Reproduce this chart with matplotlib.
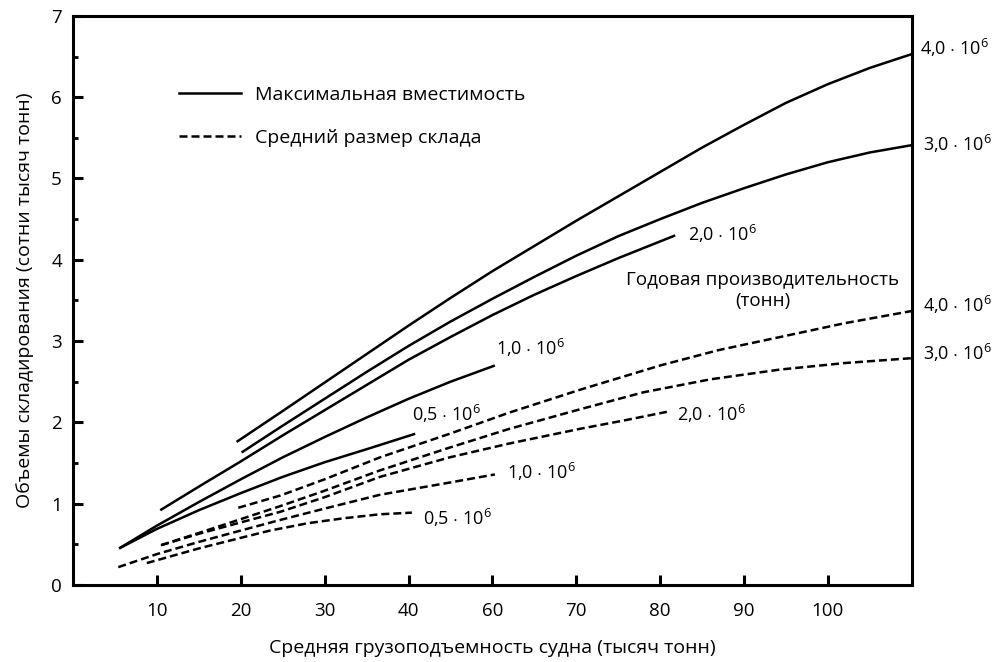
import matplotlib
matplotlib.use("Agg")
import matplotlib.pyplot as plt
from matplotlib.lines import Line2D
from matplotlib.ticker import MultipleLocator

plt.rcParams['font.family'] = ['Open Sans', 'DejaVu Sans']
plt.rcParams['mathtext.fontset'] = 'custom'
plt.rcParams['mathtext.rm'] = 'Open Sans'
plt.rcParams['mathtext.it'] = 'Open Sans'

# x positions are in the chart's own tick units (ticks evenly spaced, labelled as in the source)
tick_pos = [10, 20, 30, 40, 50, 60, 70, 80, 90]
tick_labels = ['10', '20', '30', '40', '60', '70', '80', '90', '100']

# Maximum capacity (solid)
s40_x = [19.5, 25, 30, 35, 40, 45, 50, 55, 60, 65, 70, 75, 80, 85, 90, 95, 100]
s40_y = [1.76, 2.14, 2.49, 2.84, 3.19, 3.53, 3.86, 4.17, 4.48, 4.78, 5.08, 5.38, 5.66, 5.93, 6.16, 6.36, 6.53]
s30_x = [20.1, 25, 30, 35, 40, 45, 50, 55, 60, 65, 70, 75, 80, 85, 90, 95, 100]
s30_y = [1.63, 1.96, 2.29, 2.62, 2.94, 3.24, 3.52, 3.79, 4.05, 4.29, 4.50, 4.70, 4.88, 5.05, 5.20, 5.32, 5.41]
s20_x = [10.4, 15, 20, 25, 30, 35, 40, 45, 50, 55, 60, 65, 71.8]
s20_y = [0.92, 1.21, 1.52, 1.84, 2.15, 2.46, 2.77, 3.05, 3.32, 3.57, 3.80, 4.02, 4.30]
s10_x = [5.5, 10, 15, 20, 25, 30, 35, 40, 45, 50.3]
s10_y = [0.45, 0.73, 1.02, 1.30, 1.57, 1.82, 2.06, 2.29, 2.50, 2.70]
s05_x = [5.5, 10, 15, 20, 25, 30, 35, 40.8]
s05_y = [0.45, 0.69, 0.92, 1.13, 1.33, 1.51, 1.67, 1.86]

# Average warehouse size (dashed)
d40_x = [19.7, 24.7, 30, 36.6, 44.9, 52, 60.4, 70, 77, 84.3, 92, 100]
d40_y = [0.95, 1.10, 1.30, 1.57, 1.86, 2.12, 2.40, 2.70, 2.89, 3.05, 3.22, 3.37]
d30_x = [10.5, 15, 20, 24.7, 30, 36.6, 44.9, 52, 60.4, 68, 76, 84.3, 92, 100]
d30_y = [0.49, 0.64, 0.81, 0.97, 1.16, 1.41, 1.69, 1.92, 2.16, 2.37, 2.53, 2.65, 2.73, 2.79]
d20_x = [10.5, 15, 20, 24.7, 30, 36.6, 44.9, 52, 60.4, 66, 70.8]
d20_y = [0.49, 0.63, 0.77, 0.90, 1.08, 1.33, 1.57, 1.74, 1.92, 2.03, 2.13]
d10_x = [5.4, 10, 15, 20, 24.7, 30, 36.6, 44.9, 50.3]
d10_y = [0.22, 0.38, 0.53, 0.67, 0.80, 0.94, 1.11, 1.26, 1.36]
d05_x = [8.8, 15, 20, 23.5, 28, 32.2, 36.6, 40.4]
d05_y = [0.27, 0.45, 0.58, 0.67, 0.76, 0.82, 0.87, 0.89]

fig = plt.figure(figsize=(10.03, 6.62), dpi=100)
ax = fig.add_axes([0.0728, 0.1163, 0.8362, 0.8597])

lw = 1.8
dash = (0, (3.2, 1.6))
for xs, ys in [(s40_x, s40_y), (s30_x, s30_y), (s20_x, s20_y), (s10_x, s10_y), (s05_x, s05_y)]:
    ax.plot(xs, ys, color='black', lw=lw, solid_capstyle='butt', solid_joinstyle='round')
for xs, ys in [(d40_x, d40_y), (d30_x, d30_y), (d20_x, d20_y), (d10_x, d10_y), (d05_x, d05_y)]:
    ax.plot(xs, ys, color='black', lw=lw, linestyle=dash, dash_capstyle='butt')

ax.set_xlim(0, 100)
ax.set_ylim(0, 7)
ax.set_xticks(tick_pos)
ax.set_xticklabels(tick_labels)
ax.set_yticks(range(0, 8))
ax.yaxis.set_minor_locator(MultipleLocator(0.5))
ax.tick_params(axis='both', which='major', direction='in', length=7, width=2.2,
               labelsize=13.5, color='black')
ax.tick_params(axis='x', which='major', pad=12)
ax.tick_params(axis='y', which='major', pad=8)
ax.tick_params(axis='y', which='minor', direction='in', length=3.5, width=2.0)
ax.tick_params(axis='x', which='minor', length=0)
for sp in ax.spines.values():
    sp.set_linewidth(2.2)

ax.set_xlabel('Средняя грузоподъемность судна (тысяч тонн)', fontsize=14, labelpad=14)
ax.set_ylabel('Объемы складирования (сотни тысяч тонн)', fontsize=14, labelpad=12)

# legend
handles = [Line2D([], [], color='black', lw=lw),
           Line2D([], [], color='black', lw=lw, linestyle=dash)]
ax.legend(handles, ['Максимальная вместимость', 'Средний размер склада'],
          loc='upper left', bbox_to_anchor=(0.126, 0.877), frameon=False,
          fontsize=14, handlelength=3.2, handletextpad=0.7, labelspacing=1.3,
          borderpad=0, borderaxespad=0)

def lab(v):
    return v + r' $\cdot$ 10$^{6}$'

fs = 13
# right-side labels
ax.text(101.0, 6.61, lab('4,0'), fontsize=fs, va='center', ha='left', clip_on=False)
ax.text(101.4, 5.43, lab('3,0'), fontsize=fs, va='center', ha='left', clip_on=False)
ax.text(101.4, 3.44, lab('4,0'), fontsize=fs, va='center', ha='left', clip_on=False)
ax.text(101.4, 2.85, lab('3,0'), fontsize=fs, va='center', ha='left', clip_on=False)
# inside labels
ax.text(73.3, 4.32, lab('2,0'), fontsize=fs, va='center', ha='left')
ax.text(50.4, 2.91, lab('1,0'), fontsize=fs, va='center', ha='left')
ax.text(40.4, 2.11, lab('0,5'), fontsize=fs, va='center', ha='left')
ax.text(72.0, 2.10, lab('2,0'), fontsize=fs, va='center', ha='left')
ax.text(51.8, 1.39, lab('1,0'), fontsize=fs, va='center', ha='left')
ax.text(41.7, 0.82, lab('0,5'), fontsize=fs, va='center', ha='left')
ax.text(82.2, 3.62, 'Годовая производительность\n(тонн)', fontsize=13.5, va='center',
        ha='center', linespacing=1.2)

fig.savefig('out.png', dpi=100)
